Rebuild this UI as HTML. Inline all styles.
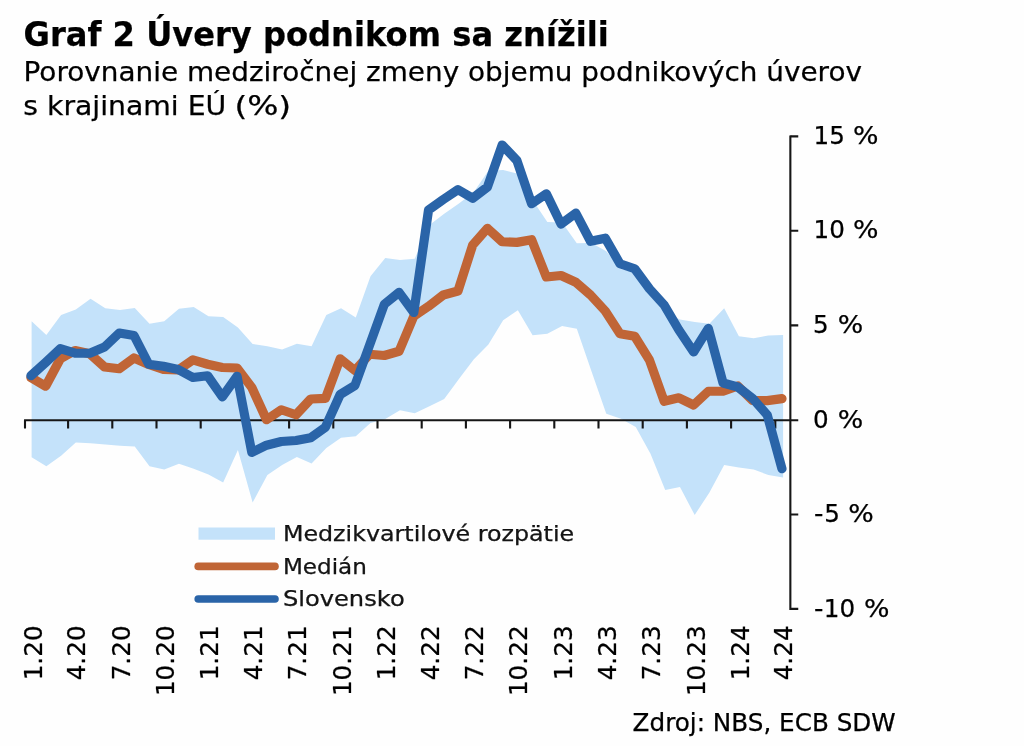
<!DOCTYPE html>
<html lang="sk"><head><meta charset="utf-8"><title>Graf 2 Úvery podnikom sa znížili</title>
<style>
html,body{margin:0;padding:0;background:#fff;}
body{width:1024px;height:746px;overflow:hidden;position:relative;font-family:"DejaVu Sans","Liberation Sans",sans-serif;color:#000;}
svg{position:absolute;left:0;top:0;display:block;filter:blur(0.45px)}
text{font-family:"DejaVu Sans","Liberation Sans",sans-serif;fill:#000;stroke:#000;stroke-width:0.25px}
.t{font-weight:bold;font-size:34.2px}
.s{font-size:27px}
.yl{font-size:24.6px}
.xl{font-size:24.7px}
.lg{font-size:21.9px;fill:#151515}
.src{font-size:24px}
</style></head><body>
<svg width="1024" height="746" viewBox="0 0 1024 746">
<rect width="1024" height="746" fill="#fefefe"/>
<polygon points="31.62,321.25 46.35,334.90 61.09,315.00 75.82,309.50 90.56,298.75 105.29,308.25 120.03,310.00 134.76,308.00 149.50,323.75 164.23,321.25 178.97,308.75 193.70,307.00 208.44,316.25 223.17,317.00 237.91,327.50 252.64,344.00 267.38,346.25 282.11,349.50 296.85,343.75 311.58,346.25 326.32,315.00 341.05,308.25 355.79,317.50 370.52,276.25 385.26,258.00 399.99,260.00 414.73,258.75 429.46,225.00 444.20,213.75 458.93,203.50 473.67,192.30 488.40,170.80 503.14,170.00 517.87,173.75 532.61,200.00 547.34,222.00 562.08,222.50 576.81,243.30 591.55,243.00 606.28,251.25 621.02,269.00 635.75,272.50 650.49,296.00 665.22,312.50 679.96,319.50 694.69,322.00 709.43,323.75 724.16,308.30 738.90,336.25 753.63,338.25 768.37,335.50 783.10,335.00 783.10,477.50 768.37,475.00 753.63,469.50 738.90,467.50 724.16,465.00 709.43,492.50 694.69,515.00 679.96,487.00 665.22,490.00 650.49,453.75 635.75,427.00 621.02,418.75 606.28,413.75 591.55,371.50 576.81,328.75 562.08,325.90 547.34,333.80 532.61,335.30 517.87,310.30 503.14,320.30 488.40,344.50 473.67,359.60 458.93,379.00 444.20,399.00 429.46,406.25 414.73,413.25 399.99,410.25 385.26,419.00 370.52,422.90 355.79,436.25 341.05,437.75 326.32,448.00 311.58,463.50 296.85,457.00 282.11,465.00 267.38,475.00 252.64,502.50 237.91,450.00 223.17,482.50 208.44,474.50 193.70,468.75 178.97,463.75 164.23,469.50 149.50,466.25 134.76,446.50 120.03,445.75 105.29,444.50 90.56,443.25 75.82,442.50 61.09,455.75 46.35,466.35 31.62,457.25" fill="#c4e2fa"/>
<g stroke="#161616" stroke-width="2.1" fill="none" stroke-linecap="butt">
<path d="M24.05 420.2 H798.25"/>
<path d="M790.35 135.40 V609.90"/>
<path d="M790.35 136.40 h7.9 M790.35 230.70 h7.9 M790.35 325.40 h7.9 M790.35 514.50 h7.9 M790.35 608.90 h7.9 M25.00 420.2 v8.4 M68.10 420.2 v8.4 M112.30 420.2 v8.4 M156.50 420.2 v8.4 M200.70 420.2 v8.4 M244.90 420.2 v8.4 M289.10 420.2 v8.4 M333.30 420.2 v8.4 M377.50 420.2 v8.4 M421.70 420.2 v8.4 M465.90 420.2 v8.4 M510.10 420.2 v8.4 M554.30 420.2 v8.4 M598.50 420.2 v8.4 M642.70 420.2 v8.4 M686.90 420.2 v8.4 M731.10 420.2 v8.4 M775.30 420.2 v8.4 "/>
</g>
<polyline points="30.90,377.50 45.63,386.25 60.35,358.75 75.08,350.50 89.81,353.75 104.53,367.00 119.26,368.75 133.99,358.00 148.72,364.50 163.44,369.50 178.17,370.00 192.90,359.90 207.62,364.25 222.35,367.50 237.08,368.00 251.81,387.50 266.53,419.75 281.26,409.75 295.99,414.75 310.71,399.00 325.44,398.30 340.17,358.75 354.89,370.50 369.62,354.25 384.35,355.50 399.07,351.25 413.80,316.25 428.53,306.30 443.26,295.00 457.98,291.00 472.71,245.00 487.44,228.30 502.16,241.75 516.89,242.40 531.62,239.75 546.35,277.00 561.07,275.50 575.80,282.25 590.53,295.00 605.25,311.00 619.98,333.75 634.71,336.25 649.43,360.00 664.16,401.25 678.89,397.80 693.62,405.00 708.34,391.25 723.07,391.25 737.80,386.00 752.52,400.50 767.25,400.60 781.98,398.60" fill="none" stroke="#c06536" stroke-width="9.2" stroke-linejoin="round" stroke-linecap="round"/>
<polyline points="30.90,375.75 45.63,362.50 60.35,348.70 75.08,353.10 89.81,353.25 104.53,347.00 119.26,333.00 133.99,335.50 148.72,364.25 163.44,366.25 178.17,369.50 192.90,377.50 207.62,375.75 222.35,396.85 237.08,376.25 251.81,452.50 266.53,445.20 281.26,441.50 295.99,440.50 310.71,437.70 325.44,427.20 340.17,394.50 354.89,385.50 369.62,345.00 384.35,304.25 399.07,292.40 413.80,312.50 428.53,210.00 443.26,199.50 457.98,189.60 472.71,198.25 487.44,187.00 502.16,145.00 516.89,160.50 531.62,203.75 546.35,193.75 561.07,224.05 575.80,213.15 590.53,241.25 605.25,238.15 619.98,263.75 634.71,268.75 649.43,288.75 664.16,305.00 678.89,330.00 693.62,352.00 708.34,328.40 723.07,383.05 737.80,387.00 752.52,398.30 767.25,415.00 781.98,468.75" fill="none" stroke="#2a64a8" stroke-width="9.2" stroke-linejoin="round" stroke-linecap="round"/>
<rect x="198.5" y="527.5" width="76.5" height="12.2" fill="#c4e2fa"/>
<path d="M198.2 566.4 H275" stroke="#c06536" stroke-width="7.6" stroke-linecap="round" fill="none"/>
<path d="M198.2 599 H275" stroke="#2a64a8" stroke-width="7.6" stroke-linecap="round" fill="none"/>
<text class="lg" x="282.9" y="541.4" textLength="291.3" lengthAdjust="spacingAndGlyphs">Medzikvartilové rozpätie</text>
<text class="lg" x="282.9" y="573.7" textLength="84.0" lengthAdjust="spacingAndGlyphs">Medián</text>
<text class="lg" x="282.9" y="606.2" textLength="121.8" lengthAdjust="spacingAndGlyphs">Slovensko</text>
<text class="t" x="23.5" y="45.75" textLength="585.2" lengthAdjust="spacingAndGlyphs">Graf 2 Úvery podnikom sa znížili</text>
<text class="s" x="23.5" y="80.8" textLength="838.5" lengthAdjust="spacingAndGlyphs">Porovnanie medziročnej zmeny objemu podnikových úverov</text>
<text class="s" y="114.8"><tspan x="23.3" textLength="203" lengthAdjust="spacingAndGlyphs">s krajinami EÚ</tspan> <tspan x="234.4" textLength="56.8" lengthAdjust="spacingAndGlyphs">(%)</tspan></text>
<text class="yl" y="144.10"><tspan x="813.6">15</tspan> <tspan x="852.9" textLength="25.5" lengthAdjust="spacingAndGlyphs">%</tspan></text>
<text class="yl" y="238.40"><tspan x="813.6">10</tspan> <tspan x="852.9" textLength="25.5" lengthAdjust="spacingAndGlyphs">%</tspan></text>
<text class="yl" y="333.10"><tspan x="812.9">5</tspan> <tspan x="837.65" textLength="25.5" lengthAdjust="spacingAndGlyphs">%</tspan></text>
<text class="yl" y="427.95"><tspan x="812.9">0</tspan> <tspan x="837.65" textLength="25.5" lengthAdjust="spacingAndGlyphs">%</tspan></text>
<text class="yl" y="522.20"><tspan x="814.1" textLength="9.4" lengthAdjust="spacingAndGlyphs">-</tspan><tspan x="824.3">5</tspan> <tspan x="848.3" textLength="25.5" lengthAdjust="spacingAndGlyphs">%</tspan></text>
<text class="yl" y="616.60"><tspan x="814.1" textLength="9.4" lengthAdjust="spacingAndGlyphs">-</tspan><tspan x="823.8">10</tspan> <tspan x="863.9" textLength="25.5" lengthAdjust="spacingAndGlyphs">%</tspan></text>
<text class="xl" transform="translate(42.02 625.4) rotate(-90)" text-anchor="end">1.20</text>
<text class="xl" transform="translate(85.32 625.4) rotate(-90)" text-anchor="end">4.20</text>
<text class="xl" transform="translate(129.53 625.4) rotate(-90)" text-anchor="end">7.20</text>
<text class="xl" transform="translate(173.73 625.4) rotate(-90)" text-anchor="end">10.20</text>
<text class="xl" transform="translate(217.94 625.4) rotate(-90)" text-anchor="end">1.21</text>
<text class="xl" transform="translate(262.14 625.4) rotate(-90)" text-anchor="end">4.21</text>
<text class="xl" transform="translate(306.35 625.4) rotate(-90)" text-anchor="end">7.21</text>
<text class="xl" transform="translate(350.55 625.4) rotate(-90)" text-anchor="end">10.21</text>
<text class="xl" transform="translate(394.76 625.4) rotate(-90)" text-anchor="end">1.22</text>
<text class="xl" transform="translate(438.96 625.4) rotate(-90)" text-anchor="end">4.22</text>
<text class="xl" transform="translate(483.17 625.4) rotate(-90)" text-anchor="end">7.22</text>
<text class="xl" transform="translate(527.37 625.4) rotate(-90)" text-anchor="end">10.22</text>
<text class="xl" transform="translate(571.58 625.4) rotate(-90)" text-anchor="end">1.23</text>
<text class="xl" transform="translate(615.78 625.4) rotate(-90)" text-anchor="end">4.23</text>
<text class="xl" transform="translate(659.99 625.4) rotate(-90)" text-anchor="end">7.23</text>
<text class="xl" transform="translate(704.79 625.4) rotate(-90)" text-anchor="end">10.23</text>
<text class="xl" transform="translate(748.80 625.4) rotate(-90)" text-anchor="end">1.24</text>
<text class="xl" transform="translate(792.00 625.4) rotate(-90)" text-anchor="end">4.24</text>
<text class="src" x="632.6" y="731" textLength="263.1" lengthAdjust="spacingAndGlyphs">Zdroj: NBS, ECB SDW</text>
</svg>
</body></html>
